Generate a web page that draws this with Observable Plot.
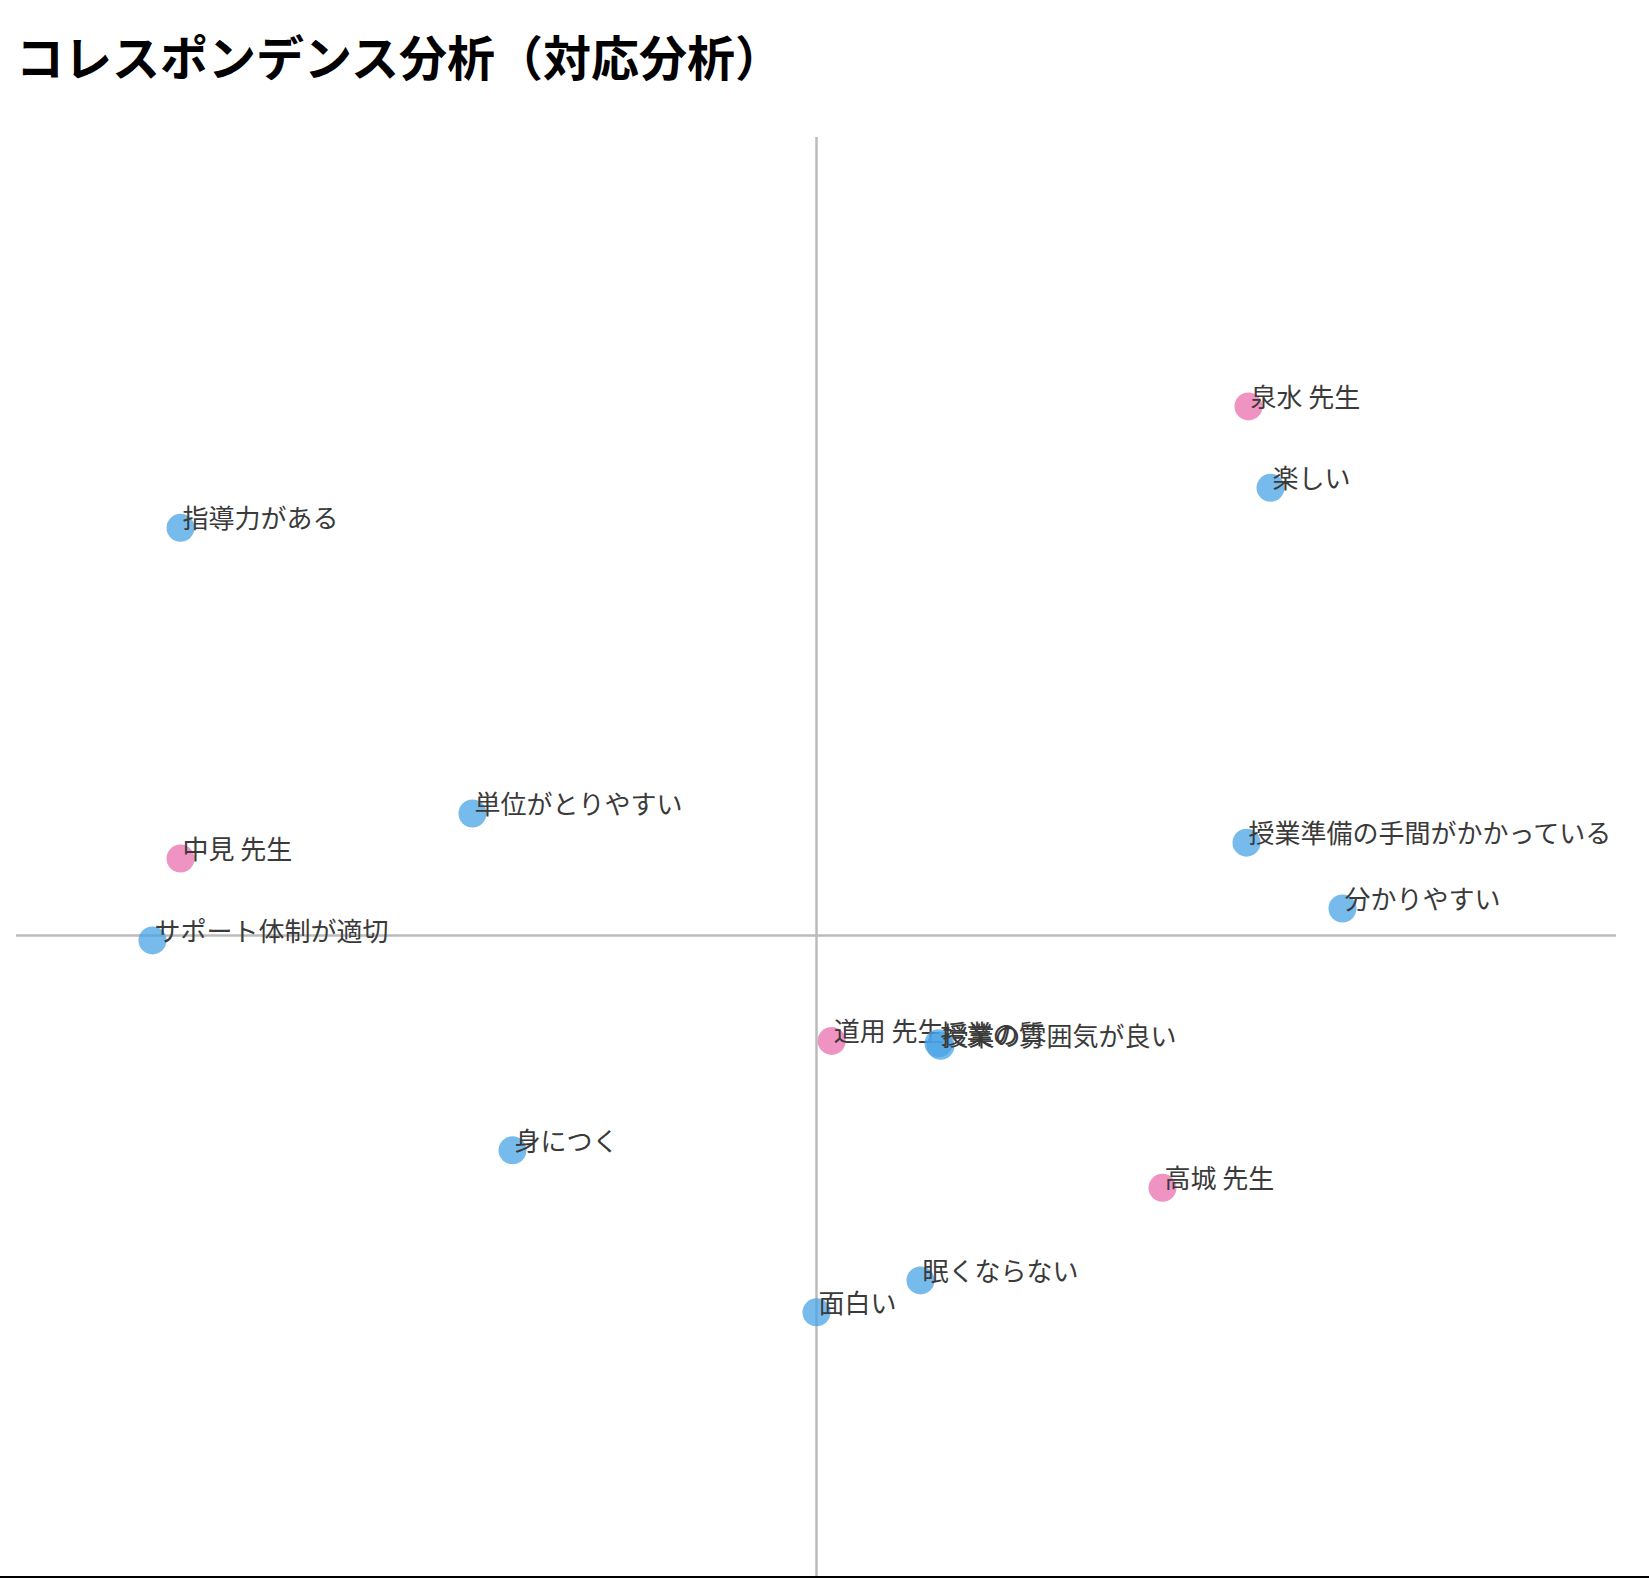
<!DOCTYPE html>
<html><head><meta charset="utf-8">
<script src="https://cdn.jsdelivr.net/npm/d3@7"></script>
<script src="https://cdn.jsdelivr.net/npm/@observablehq/plot@0.6"></script>
<style>
html,body{margin:0;padding:0;background:#fff;}
#title{box-sizing:border-box;height:100px;padding:29px 0 0 16px;font-family:"Noto Sans CJK JP",sans-serif;font-weight:700;font-size:48px;line-height:52px;color:#000;}
#chart{width:1649px;height:1476px;overflow:hidden;border-bottom:3px solid #000;}
</style></head>
<body>
<div id="title">コレスポンデンス分析（対応分析）</div>
<div id="chart"></div>
<script>
// Row points (teachers)
const teacherLabels = ["泉水 先生", "中見 先生", "道用 先生", "高城 先生"];
const teacherDim1 = [0.540, -0.795, 0.019, 0.4325];
const teacherDim2 = [0.663, 0.0965, -0.132, -0.316];

// Column points (attributes)
const attrLabels = ["楽しい", "指導力がある", "単位がとりやすい", "授業準備の手間がかかっている", "分かりやすい", "サポート体制が適切", "授業の質", "授業の雰囲気が良い", "身につく", "眠くならない", "面白い"];
const attrDim1 = [0.5675, -0.795, -0.43, 0.5375, 0.6575, -0.83, 0.1525, 0.155, -0.38, 0.13, 0.0];
const attrDim2 = [0.561, 0.511, 0.153, 0.1165, 0.034, -0.006, -0.135, -0.138, -0.269, -0.432, -0.472];

const teachers = teacherLabels.map((l, i) => ({label: l, x: teacherDim1[i], y: teacherDim2[i]}));
const attrs = attrLabels.map((l, i) => ({label: l, x: attrDim1[i], y: attrDim2[i]}));

const font = "'Noto Sans CJK JP', sans-serif";
const plot = Plot.plot({
  width: 1649,
  height: 1476,
  marginLeft: 16,
  marginRight: 33,
  marginTop: 37,
  marginBottom: 0,
  x: {domain: [-1, 1], axis: null},
  y: {domain: [-0.803, 1], axis: null},
  style: {fontFamily: font, background: "#fff"},
  marks: [
    Plot.ruleY([0], {stroke: "#bbbbbb", strokeWidth: 2.5}),
    Plot.ruleX([0], {stroke: "#bbbbbb", strokeWidth: 2.5}),
    Plot.dot(teachers, {x: "x", y: "y", r: 14, fill: "#e86aaa", fillOpacity: 0.72, stroke: "none"}),
    Plot.text(teachers, {x: "x", y: "y", text: "label", textAnchor: "start", lineAnchor: "middle", dx: 2, dy: -8, fontSize: 26, fill: "#3a3a3a"}),
    Plot.dot(attrs, {x: "x", y: "y", r: 14, fill: "#4aa3e6", fillOpacity: 0.75, stroke: "none"}),
    Plot.text(attrs, {x: "x", y: "y", text: "label", textAnchor: "start", lineAnchor: "middle", dx: 2, dy: -8, fontSize: 26, fill: "#3a3a3a"})
  ]
});
document.getElementById("chart").appendChild(plot);
</script>
</body></html>
